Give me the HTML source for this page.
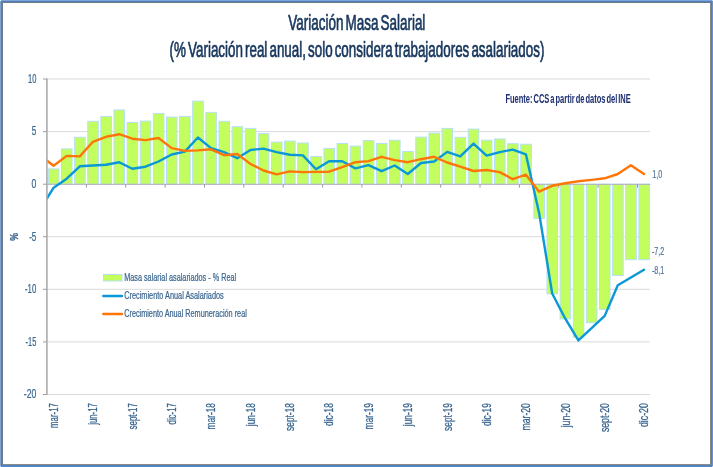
<!DOCTYPE html>
<html lang="es"><head><meta charset="utf-8"><title>Variación Masa Salarial</title>
<style>
html,body{margin:0;padding:0;background:#fff;}
body{width:713px;height:467px;overflow:hidden;font-family:"Liberation Sans",sans-serif;}
svg{display:block;position:absolute;left:0;top:0;}
text{font-family:"Liberation Sans",sans-serif;}
</style></head><body>
<svg width="713" height="467" viewBox="0 0 713 467">
<rect x="0" y="0" width="713" height="467" fill="#fff"/>

<g stroke="#dadada" stroke-width="1" fill="none">
<line x1="47.0" y1="79.0" x2="650.0" y2="79.0"/>
<line x1="47.0" y1="131.6" x2="650.0" y2="131.6"/>
<line x1="47.0" y1="236.7" x2="650.0" y2="236.7"/>
<line x1="47.0" y1="289.3" x2="650.0" y2="289.3"/>
<line x1="47.0" y1="341.9" x2="650.0" y2="341.9"/>
<line x1="47.0" y1="394.5" x2="650.0" y2="394.5"/>
</g>
<g fill="#c2fe5d" stroke="#b6e0f6" stroke-width="1">
<rect x="48.39" y="168.9" width="10.55" height="15.2"/>
<rect x="61.51" y="148.9" width="10.55" height="35.2"/>
<rect x="74.63" y="137.3" width="10.55" height="46.8"/>
<rect x="87.75" y="121.3" width="10.55" height="62.9"/>
<rect x="100.87" y="116.4" width="10.55" height="67.8"/>
<rect x="113.99" y="110.0" width="10.55" height="74.2"/>
<rect x="127.12" y="122.5" width="10.55" height="61.7"/>
<rect x="140.24" y="121.1" width="10.55" height="63.1"/>
<rect x="153.36" y="113.6" width="10.55" height="70.6"/>
<rect x="166.48" y="117.1" width="10.55" height="67.1"/>
<rect x="179.60" y="116.4" width="10.55" height="67.8"/>
<rect x="192.72" y="101.1" width="10.55" height="83.1"/>
<rect x="205.85" y="112.4" width="10.55" height="71.8"/>
<rect x="218.97" y="121.3" width="10.55" height="62.9"/>
<rect x="232.09" y="126.7" width="10.55" height="57.5"/>
<rect x="245.21" y="128.4" width="10.55" height="55.8"/>
<rect x="258.33" y="133.6" width="10.55" height="50.6"/>
<rect x="271.46" y="142.1" width="10.55" height="42.1"/>
<rect x="284.58" y="141.1" width="10.55" height="43.1"/>
<rect x="297.70" y="143.0" width="10.55" height="41.2"/>
<rect x="310.82" y="156.4" width="10.55" height="27.8"/>
<rect x="323.94" y="148.4" width="10.55" height="35.8"/>
<rect x="337.06" y="143.5" width="10.55" height="40.7"/>
<rect x="350.19" y="146.1" width="10.55" height="38.1"/>
<rect x="363.31" y="140.6" width="10.55" height="43.6"/>
<rect x="376.43" y="143.5" width="10.55" height="40.7"/>
<rect x="389.55" y="140.2" width="10.55" height="44.0"/>
<rect x="402.67" y="151.5" width="10.55" height="32.7"/>
<rect x="415.79" y="137.1" width="10.55" height="47.1"/>
<rect x="428.92" y="133.1" width="10.55" height="51.1"/>
<rect x="442.04" y="128.4" width="10.55" height="55.8"/>
<rect x="455.16" y="137.3" width="10.55" height="46.8"/>
<rect x="468.28" y="129.1" width="10.55" height="55.1"/>
<rect x="481.40" y="140.2" width="10.55" height="44.0"/>
<rect x="494.53" y="139.0" width="10.55" height="45.2"/>
<rect x="507.65" y="143.7" width="10.55" height="40.5"/>
<rect x="520.77" y="144.2" width="10.55" height="40.0"/>
<rect x="533.89" y="184.2" width="10.55" height="34.2"/>
<rect x="547.01" y="184.2" width="10.55" height="109.7"/>
<rect x="560.13" y="184.2" width="10.55" height="134.7"/>
<rect x="573.26" y="184.2" width="10.55" height="153.0"/>
<rect x="586.38" y="184.2" width="10.55" height="138.5"/>
<rect x="599.50" y="184.2" width="10.55" height="125.2"/>
<rect x="612.62" y="184.2" width="10.55" height="91.3"/>
<rect x="625.74" y="184.2" width="10.55" height="75.5"/>
<rect x="638.86" y="184.2" width="10.55" height="75.5"/>
</g>
<line x1="47.0" y1="184.3" x2="650.2" y2="184.3" stroke="#b3aeb8" stroke-width="1"/>
<g stroke="#9c9c9c" stroke-width="1">
<line x1="43" y1="79.0" x2="47.0" y2="79.0"/>
<line x1="43" y1="131.6" x2="47.0" y2="131.6"/>
<line x1="43" y1="184.2" x2="47.0" y2="184.2"/>
<line x1="43" y1="236.7" x2="47.0" y2="236.7"/>
<line x1="43" y1="289.3" x2="47.0" y2="289.3"/>
<line x1="43" y1="341.9" x2="47.0" y2="341.9"/>
<line x1="43" y1="394.5" x2="47.0" y2="394.5"/>
<line x1="86.4" y1="184.15" x2="86.4" y2="187.65"/>
<line x1="125.7" y1="184.15" x2="125.7" y2="187.65"/>
<line x1="165.1" y1="184.15" x2="165.1" y2="187.65"/>
<line x1="204.5" y1="184.15" x2="204.5" y2="187.65"/>
<line x1="243.8" y1="184.15" x2="243.8" y2="187.65"/>
<line x1="283.2" y1="184.15" x2="283.2" y2="187.65"/>
<line x1="322.6" y1="184.15" x2="322.6" y2="187.65"/>
<line x1="361.9" y1="184.15" x2="361.9" y2="187.65"/>
<line x1="401.3" y1="184.15" x2="401.3" y2="187.65"/>
<line x1="440.7" y1="184.15" x2="440.7" y2="187.65"/>
<line x1="480.0" y1="184.15" x2="480.0" y2="187.65"/>
<line x1="519.4" y1="184.15" x2="519.4" y2="187.65"/>
<line x1="558.7" y1="184.15" x2="558.7" y2="187.65"/>
<line x1="598.1" y1="184.15" x2="598.1" y2="187.65"/>
<line x1="637.5" y1="184.15" x2="637.5" y2="187.65"/>
</g>
<clipPath id="pc"><rect x="47" y="70" width="620" height="330"/></clipPath>
<path clip-path="url(#pc)" d="M47.0,198.4 L53.6,187.7 L66.7,178.7 L79.8,166.3 L92.9,165.5 L106.0,164.8 L119.2,162.2 L132.3,168.8 L145.4,166.7 L158.5,161.5 L171.7,154.5 L184.8,151.6 L197.9,137.5 L211.0,148.1 L224.1,152.1 L237.3,158.2 L250.4,150.0 L263.5,148.6 L276.6,152.1 L289.8,154.7 L302.9,155.4 L316.0,169.3 L329.1,161.3 L342.2,161.3 L355.4,168.4 L368.5,165.1 L381.6,171.2 L394.7,165.5 L407.8,174.0 L421.0,163.0 L434.1,161.5 L447.2,151.9 L460.3,156.4 L473.5,143.6 L486.6,155.7 L499.7,152.1 L512.8,149.6 L525.9,154.3 L539.1,212.9 L552.2,293.5 L565.3,318.7 L578.4,340.4 L591.6,328.1 L604.7,315.9 L617.8,285.3 L630.9,277.5 L644.0,269.7" fill="none" stroke="#0b98d6" stroke-width="2.4" stroke-linejoin="round" stroke-linecap="round"/>
<path clip-path="url(#pc)" d="M47.0,160.6 L53.6,165.8 L66.7,155.9 L79.8,156.4 L92.9,141.8 L106.0,136.8 L119.2,134.2 L132.3,138.7 L145.4,140.1 L158.5,138.0 L171.7,148.1 L184.8,150.9 L197.9,150.4 L211.0,149.3 L224.1,155.2 L237.3,154.0 L250.4,163.9 L263.5,170.5 L276.6,174.3 L289.8,171.4 L302.9,172.1 L316.0,171.9 L329.1,171.7 L342.2,167.2 L355.4,162.2 L368.5,161.1 L381.6,156.8 L394.7,160.1 L407.8,162.2 L421.0,159.2 L434.1,156.8 L447.2,162.5 L460.3,166.7 L473.5,171.0 L486.6,170.0 L499.7,172.1 L512.8,179.2 L525.9,174.7 L539.1,191.7 L552.2,185.8 L565.3,183.2 L578.4,181.3 L591.6,179.9 L604.7,178.3 L617.8,174.0 L630.9,165.3 L644.0,174.0" fill="none" stroke="#ff7608" stroke-width="2.4" stroke-linejoin="round" stroke-linecap="round"/>
<line x1="46.9" y1="78.5" x2="46.9" y2="394.8" stroke="#ababab" stroke-width="1.6"/>
<text transform="translate(36.3,82.7) scale(0.627,1)" font-size="11.9" fill="#3b6690" text-anchor="end" font-weight="normal" stroke="#3b6690" stroke-width="0.2" stroke-linejoin="round" vector-effect="non-scaling-stroke">10</text>
<text transform="translate(36.3,135.3) scale(0.6799,1)" font-size="11.9" fill="#3b6690" text-anchor="end" font-weight="normal" stroke="#3b6690" stroke-width="0.2" stroke-linejoin="round" vector-effect="non-scaling-stroke">5</text>
<text transform="translate(36.3,187.9) scale(0.7252,1)" font-size="11.9" fill="#3b6690" text-anchor="end" font-weight="normal" stroke="#3b6690" stroke-width="0.2" stroke-linejoin="round" vector-effect="non-scaling-stroke">0</text>
<text transform="translate(36.3,240.5) scale(0.671,1)" font-size="11.9" fill="#3b6690" text-anchor="end" font-weight="normal" stroke="#3b6690" stroke-width="0.2" stroke-linejoin="round" vector-effect="non-scaling-stroke">-5</text>
<text transform="translate(36.3,293.1) scale(0.657,1)" font-size="11.9" fill="#3b6690" text-anchor="end" font-weight="normal" stroke="#3b6690" stroke-width="0.2" stroke-linejoin="round" vector-effect="non-scaling-stroke">-10</text>
<text transform="translate(36.3,345.7) scale(0.6221,1)" font-size="11.9" fill="#3b6690" text-anchor="end" font-weight="normal" stroke="#3b6690" stroke-width="0.2" stroke-linejoin="round" vector-effect="non-scaling-stroke">-15</text>
<text transform="translate(36.3,398.2) scale(0.7267,1)" font-size="11.9" fill="#3b6690" text-anchor="end" font-weight="normal" stroke="#3b6690" stroke-width="0.2" stroke-linejoin="round" vector-effect="non-scaling-stroke">-20</text>
<text transform="translate(57.9,403.1) rotate(-90) scale(0.6391,1)" font-size="12.3" fill="#3b6690" stroke="#3b6690" stroke-width="0.25" vector-effect="non-scaling-stroke" text-anchor="end">mar-17</text>
<text transform="translate(97.2,403.1) rotate(-90) scale(0.6346,1)" font-size="12.3" fill="#3b6690" stroke="#3b6690" stroke-width="0.25" vector-effect="non-scaling-stroke" text-anchor="end">jun-17</text>
<text transform="translate(136.6,403.1) rotate(-90) scale(0.6435,1)" font-size="12.3" fill="#3b6690" stroke="#3b6690" stroke-width="0.25" vector-effect="non-scaling-stroke" text-anchor="end">sept-17</text>
<text transform="translate(176.0,403.1) rotate(-90) scale(0.6388,1)" font-size="12.3" fill="#3b6690" stroke="#3b6690" stroke-width="0.25" vector-effect="non-scaling-stroke" text-anchor="end">dic-17</text>
<text transform="translate(215.3,403.1) rotate(-90) scale(0.675,1)" font-size="12.3" fill="#3b6690" stroke="#3b6690" stroke-width="0.25" vector-effect="non-scaling-stroke" text-anchor="end">mar-18</text>
<text transform="translate(254.7,403.1) rotate(-90) scale(0.6756,1)" font-size="12.3" fill="#3b6690" stroke="#3b6690" stroke-width="0.25" vector-effect="non-scaling-stroke" text-anchor="end">jun-18</text>
<text transform="translate(294.1,403.1) rotate(-90) scale(0.6776,1)" font-size="12.3" fill="#3b6690" stroke="#3b6690" stroke-width="0.25" vector-effect="non-scaling-stroke" text-anchor="end">sept-18</text>
<text transform="translate(333.4,403.1) rotate(-90) scale(0.6806,1)" font-size="12.3" fill="#3b6690" stroke="#3b6690" stroke-width="0.25" vector-effect="non-scaling-stroke" text-anchor="end">dic-18</text>
<text transform="translate(372.8,403.1) rotate(-90) scale(0.675,1)" font-size="12.3" fill="#3b6690" stroke="#3b6690" stroke-width="0.25" vector-effect="non-scaling-stroke" text-anchor="end">mar-19</text>
<text transform="translate(412.1,403.1) rotate(-90) scale(0.6756,1)" font-size="12.3" fill="#3b6690" stroke="#3b6690" stroke-width="0.25" vector-effect="non-scaling-stroke" text-anchor="end">jun-19</text>
<text transform="translate(451.5,403.1) rotate(-90) scale(0.6776,1)" font-size="12.3" fill="#3b6690" stroke="#3b6690" stroke-width="0.25" vector-effect="non-scaling-stroke" text-anchor="end">sept-19</text>
<text transform="translate(490.9,403.1) rotate(-90) scale(0.6806,1)" font-size="12.3" fill="#3b6690" stroke="#3b6690" stroke-width="0.25" vector-effect="non-scaling-stroke" text-anchor="end">dic-19</text>
<text transform="translate(530.2,403.1) rotate(-90) scale(0.7058,1)" font-size="12.3" fill="#3b6690" stroke="#3b6690" stroke-width="0.25" vector-effect="non-scaling-stroke" text-anchor="end">mar-20</text>
<text transform="translate(569.6,403.1) rotate(-90) scale(0.7107,1)" font-size="12.3" fill="#3b6690" stroke="#3b6690" stroke-width="0.25" vector-effect="non-scaling-stroke" text-anchor="end">jun-20</text>
<text transform="translate(609.0,403.1) rotate(-90) scale(0.7068,1)" font-size="12.3" fill="#3b6690" stroke="#3b6690" stroke-width="0.25" vector-effect="non-scaling-stroke" text-anchor="end">sept-20</text>
<text transform="translate(648.3,403.1) rotate(-90) scale(0.7164,1)" font-size="12.3" fill="#3b6690" stroke="#3b6690" stroke-width="0.25" vector-effect="non-scaling-stroke" text-anchor="end">dic-20</text>
<text transform="translate(18,236.8) rotate(-90) scale(0.8,1)" font-size="11" font-weight="bold" fill="#3b6690" stroke="#3b6690" stroke-width="0.3" text-anchor="middle">%</text>
<text transform="translate(652.3,178.3) scale(0.615,1)" font-size="11.8" fill="#4a7099" text-anchor="start" font-weight="normal" stroke="#4a7099" stroke-width="0.15" stroke-linejoin="round" vector-effect="non-scaling-stroke">1,0</text>
<text transform="translate(652,254.6) scale(0.615,1)" font-size="11.6" fill="#4a7099" text-anchor="start" font-weight="normal" stroke="#4a7099" stroke-width="0.15" stroke-linejoin="round" vector-effect="non-scaling-stroke">-7,2</text>
<text transform="translate(652,274.3) scale(0.615,1)" font-size="11.6" fill="#4a7099" text-anchor="start" font-weight="normal" stroke="#4a7099" stroke-width="0.15" stroke-linejoin="round" vector-effect="non-scaling-stroke">-8,1</text>
<rect x="103.5" y="274.5" width="18.5" height="6.5" fill="#c2fe5d" stroke="#b6e0f6" stroke-width="1"/>
<line x1="103.3" y1="296.0" x2="122.0" y2="296.0" stroke="#0b98d6" stroke-width="2.4" stroke-linecap="round"/>
<line x1="103.3" y1="314.0" x2="122.0" y2="314.0" stroke="#ff7608" stroke-width="2.4" stroke-linecap="round"/>
<text transform="translate(124.2,281.2) scale(0.6554,1)" font-size="11.1" fill="#3b6690" text-anchor="start" font-weight="normal" stroke="#3b6690" stroke-width="0.2" stroke-linejoin="round" vector-effect="non-scaling-stroke">Masa salarial asalariados - % Real</text>
<text transform="translate(124.2,299.3) scale(0.6616,1)" font-size="11.1" fill="#3b6690" text-anchor="start" font-weight="normal" stroke="#3b6690" stroke-width="0.2" stroke-linejoin="round" vector-effect="non-scaling-stroke">Crecimiento Anual Asalariados</text>
<text transform="translate(124.2,317.3) scale(0.6569,1)" font-size="11.1" fill="#3b6690" text-anchor="start" font-weight="normal" stroke="#3b6690" stroke-width="0.2" stroke-linejoin="round" vector-effect="non-scaling-stroke">Crecimiento Anual Remuneración real</text>
<text transform="translate(505.4,103.2) scale(0.6277,1)" font-size="12" fill="#1c2e70" text-anchor="start" font-weight="bold" word-spacing="-1.8">Fuente: CCS a partir de datos del INE</text>
<text transform="translate(356.8,30.4) scale(0.6354,1)" font-size="21.2" fill="#17365d" text-anchor="middle" font-weight="normal" stroke="#17365d" stroke-width="0.6" stroke-linejoin="round" vector-effect="non-scaling-stroke" word-spacing="-2.6">Variación Masa Salarial</text>
<text transform="translate(357,56.8) scale(0.6327,1)" font-size="21.2" fill="#17365d" text-anchor="middle" font-weight="normal" stroke="#17365d" stroke-width="0.6" stroke-linejoin="round" vector-effect="non-scaling-stroke" word-spacing="-2.6">(% Variación real anual, solo considera trabajadores asalariados)</text>
<g shape-rendering="crispEdges">
<rect x="0" y="0" width="713" height="1" fill="#7da4d5"/>
<rect x="0" y="0" width="1" height="467" fill="#7da4d5"/>
<rect x="712" y="0" width="1" height="467" fill="#6593cc"/>
<rect x="0" y="466" width="713" height="1" fill="#5686c2"/>
<rect x="1" y="1" width="711" height="1" fill="#4f81bd"/>
<rect x="1" y="1" width="1" height="465" fill="#4f81bd"/>
<rect x="711" y="1" width="1" height="465" fill="#4f81bd"/>
<rect x="1" y="465" width="711" height="1" fill="#4f81bd"/>
<rect x="2" y="2" width="709" height="1" fill="#6d7889"/>
<rect x="2" y="2" width="1" height="463" fill="#717a88"/>
<rect x="710" y="3" width="1" height="462" fill="#868686"/>
<rect x="3" y="464" width="708" height="1" fill="#8c8a8a"/>
<rect x="0" y="0" width="1" height="1" fill="#e8eef7"/>
<rect x="712" y="466" width="1" height="1" fill="#b9cde8"/>
<rect x="0" y="466" width="1" height="1" fill="#c9d8ec"/>
<rect x="712" y="0" width="1" height="1" fill="#c9d8ec"/>
</g>
</svg>
</body></html>
